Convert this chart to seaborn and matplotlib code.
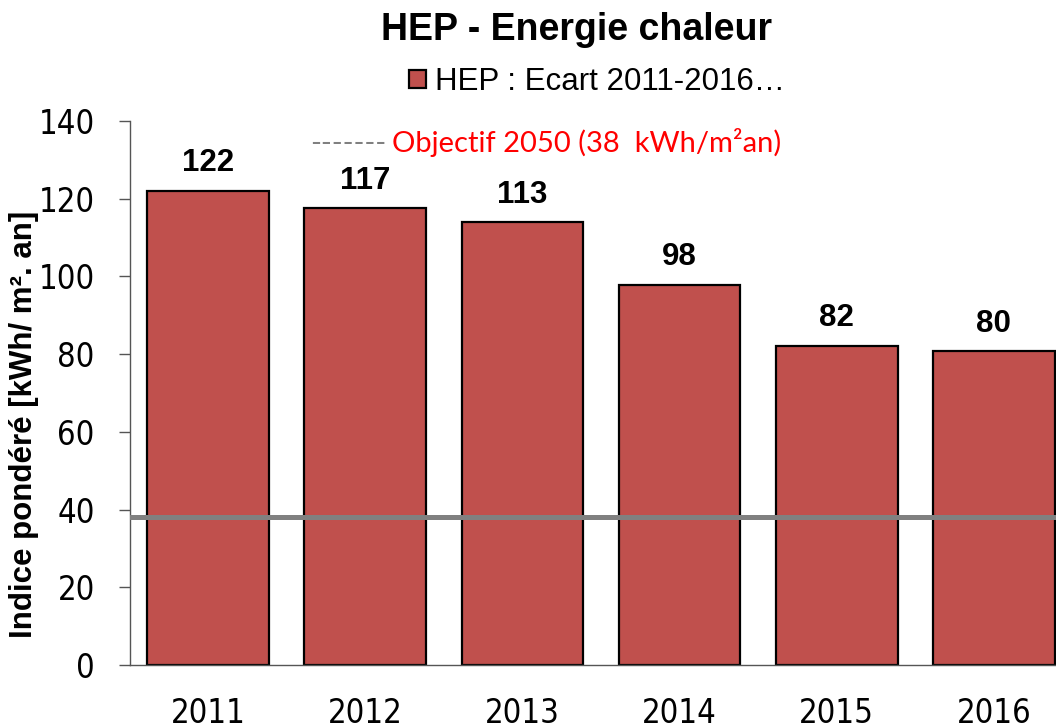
import matplotlib
matplotlib.use("Agg")
import matplotlib.pyplot as plt
from matplotlib.patches import Patch
from matplotlib.ticker import FixedLocator
import seaborn as sns
import pandas as pd

# ---- data ----
years = ["2011", "2012", "2013", "2014", "2015", "2016"]
values = [122.1, 117.6, 113.9, 97.9, 82.1, 80.8]
value_labels = ["122", "117", "113", "98", "82", "80"]
objective = 38
yticks = [0, 20, 40, 60, 80, 100, 120, 140]

title = "HEP - Energie chaleur"
series_name = "HEP : Ecart 2011-2016…"
objective_text = "Objectif 2050 (38  kWh/m²an)"
ylabel = "Indice pondéré [kWh/ m². an]"

df = pd.DataFrame({"year": years, "value": values})

sns.set_style("white")
plt.rcParams["font.family"] = ["Liberation Sans", "DejaVu Sans"]
for k in ["text.color", "axes.labelcolor", "xtick.color", "ytick.color"]:
    plt.rcParams[k] = "black"

W, H = 1056, 728
fig = plt.figure(figsize=(W / 100, H / 100), dpi=100)
ax = fig.add_axes([129.5 / W, 63 / H, 943 / W, 544 / H])

BAR = "#C0504D"
sns.barplot(data=df, x="year", y="value", color=BAR, saturation=1,
            edgecolor="black", linewidth=1.6, width=0.775, ax=ax, zorder=2)

ax.axhline(objective, color="#808080", lw=3.6, zorder=3)

ax.bar_label(ax.containers[0], labels=value_labels, padding=9,
             fontsize=22.5, fontweight="bold", color="black",
             family=["Liberation Sans", "DejaVu Sans"])

ax.set_xlim(-0.5, 5.5)
ax.set_ylim(0, 140)
ax.set_yticks(yticks)
ax.set_xlabel("")
ax.set_ylabel("")
fig.text(24 / W, 1 - 424 / H, ylabel, rotation=90, ha="center", va="center",
         fontsize=22.5, fontweight="bold", color="black")

for lab in ax.get_yticklabels() + ax.get_xticklabels():
    lab.set_family(["DejaVu Sans"])
    lab.set_stretch("condensed")
    lab.set_fontsize(23.5)
    lab.set_color("black")

ax.xaxis.set_minor_locator(FixedLocator([i - 0.5 for i in range(len(years) + 1)]))
ax.tick_params(axis="x", which="major", length=0, pad=23)
ax.tick_params(axis="x", which="minor", length=8, width=1, color="#555555", direction="out")
ax.tick_params(axis="y", which="major", length=8, width=1, color="#555555", direction="out", pad=17, left=True)

for s in ["top", "right"]:
    ax.spines[s].set_visible(False)
for s in ["left", "bottom"]:
    ax.spines[s].set_color("#555555")
    ax.spines[s].set_linewidth(1)
ax.grid(False)

fig.text(577 / W, 1 - 30 / H, title, ha="center", va="center",
         fontsize=27, fontweight="bold", color="black")

fig.legend(handles=[Patch(facecolor=BAR, edgecolor="black", linewidth=1.6, label=series_name)],
           loc="center", bbox_to_anchor=(597 / W, 1 - 82 / H), frameon=False,
           fontsize=22.5, handlelength=0.55, handleheight=0.55, handletextpad=0.3,
           borderpad=0, borderaxespad=0, labelcolor="black")

fig.text(386 / W, 1 - 152 / H, "-------", ha="right", va="baseline",
         fontsize=21, color="#808080", family=["Lato", "DejaVu Sans"])
fig.text(392 / W, 1 - 152 / H, objective_text, ha="left", va="baseline",
         fontsize=21, color="#FF0000", family=["Lato", "DejaVu Sans"])

fig.savefig("out.png", dpi=100)
